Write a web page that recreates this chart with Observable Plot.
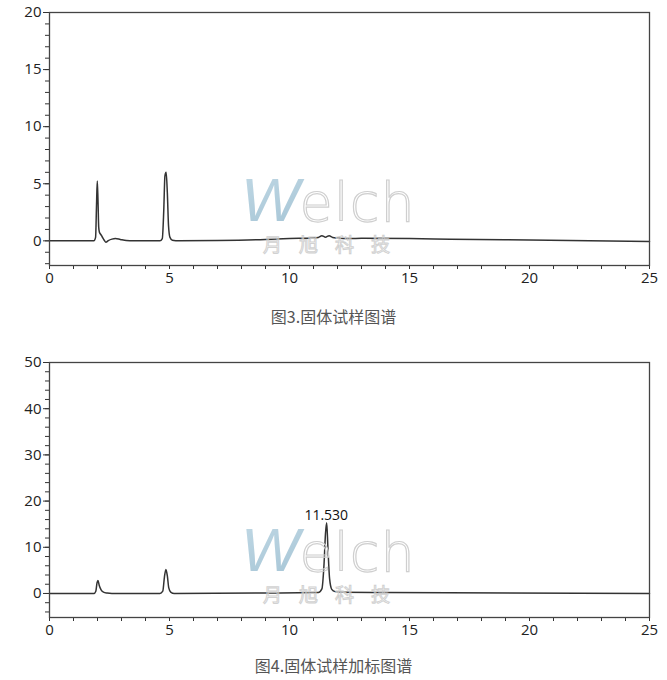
<!DOCTYPE html>
<html><head><meta charset="utf-8">
<script src="https://cdn.jsdelivr.net/npm/d3@7"></script>
<script src="https://cdn.jsdelivr.net/npm/@observablehq/plot@0.6"></script>
<style>
body{margin:0;background:#fff;width:667px;height:680px;position:relative;overflow:hidden}
.panel{position:absolute;left:0}
.cap{position:absolute;left:0;width:667px;text-align:center;font-family:"Noto Sans CJK SC";font-size:16px;color:#555;line-height:20px}
.wm{position:absolute;left:225px;pointer-events:none}
.wm svg{overflow:visible}
</style></head>
<body>
<div id="p1" class="panel" style="top:0"></div>
<div id="c1" class="cap" style="top:306px"></div>
<div id="p2" class="panel" style="top:350px"></div>
<div id="c2" class="cap" style="top:655px"></div>
<script>
// ---- data (retention time in min, signal) ----
const trace1Time   = [0, 1.85, 1.92, 1.96, 1.99, 2.02, 2.05, 2.08, 2.12, 2.17, 2.22, 2.28, 2.35, 2.45, 2.6, 2.75, 2.95, 3.2, 3.5, 4.6, 4.7, 4.76, 4.81, 4.86, 4.91, 4.96, 5.02, 5.12, 5.4, 7, 9, 10, 11, 11.2, 11.35, 11.5, 11.65, 11.8, 12.0, 12.5, 13, 15, 16.7, 20, 25];
const trace1Signal = [0, 0, 0.3, 3.2, 5.25, 3.6, 1.2, 0.75, 0.6, 0.45, 0.25, 0.05, -0.12, 0.02, 0.15, 0.2, 0.12, 0.03, 0, 0, 0.2, 2.6, 5.7, 6.0, 4.2, 1.3, 0.3, 0.05, 0, 0.03, 0.12, 0.2, 0.25, 0.3, 0.45, 0.32, 0.45, 0.3, 0.25, 0.2, 0.22, 0.2, 0.15, 0.07, -0.05];
const trace2Time   = [0, 1.85, 1.93, 1.98, 2.02, 2.07, 2.15, 2.25, 2.4, 2.6, 4.6, 4.72, 4.79, 4.85, 4.91, 4.97, 5.05, 5.2, 9, 11.2, 11.35, 11.44, 11.5, 11.55, 11.6, 11.67, 11.76, 11.9, 12.2, 14, 25];
const trace2Signal = [0, 0, 0.5, 2.3, 2.8, 1.8, 0.8, 0.3, 0.1, 0, 0, 0.5, 3.6, 5.2, 3.8, 1.2, 0.3, 0, 0.1, 0.2, 1.0, 6.5, 13, 15.3, 10, 3.2, 0.9, 0.4, 0.25, 0.2, 0];
const peakLabelTime = [11.53];
const peakLabelSignal = [15.3];
const peakLabelText = ["11.530"];
const xMajor = [0, 5, 10, 15, 20, 25];
const xMinor = d3.range(0, 26, 1);
const y1Major = [0, 5, 10, 15, 20];
const y1Minor = d3.range(-2, 21, 1);
const y2Major = [0, 10, 20, 30, 40, 50];
const y2Minor = d3.range(-4, 51, 2);
const captions = ["图3.固体试样图谱", "图4.固体试样加标图谱"];

document.getElementById("c1").textContent = captions[0];
document.getElementById("c2").textContent = captions[1];

function panel(times, signals, yDomain, yMajor, yMinor, plotH, labels) {
  const data = times.map((t, i) => ({t, s: signals[i]}));
  const marks = [
    Plot.axisX(xMinor, {tickSize: 4, tickFormat: () => "", stroke: "#333", label: null}),
    Plot.axisX(xMajor, {tickSize: 4, tickPadding: 3, stroke: "#333", fill: "#222", label: null}),
    Plot.axisY(yMinor, {tickSize: 4, tickFormat: () => "", stroke: "#333", label: null}),
    Plot.axisY(yMajor, {tickSize: 6, tickPadding: 2, stroke: "#333", fill: "#222", label: null}),
    Plot.line(data, {x: "t", y: "s", stroke: "#333", strokeWidth: 1.5, curve: "monotone-x"}),
    Plot.frame({stroke: "#444", strokeWidth: 1.3})
  ];
  if (labels) {
    const ld = labels.t.map((t, i) => ({t, s: labels.s[i], txt: labels.txt[i]}));
    marks.push(Plot.text(ld, {x: "t", y: "s", text: "txt", dy: -3, fontSize: 14, fill: "#111", lineAnchor: "bottom"}));
  }
  return Plot.plot({
    width: 667, height: 12 + plotH + 25,
    marginLeft: 49, marginRight: 18, marginTop: 12, marginBottom: 25,
    style: {fontSize: "15px", fontFamily: "Open Sans", color: "#222", background: "transparent", overflow: "visible"},
    x: {domain: [0, 25], label: null},
    y: {domain: yDomain, label: null},
    marks
  });
}
document.getElementById("p1").append(panel(trace1Time, trace1Signal, [-2.16, 20], y1Major, y1Minor, 253));
document.getElementById("p2").append(panel(trace2Time, trace2Signal, [-5.2, 50], y2Major, y2Minor, 255,
  {t: peakLabelTime, s: peakLabelSignal, txt: peakLabelText}));

// watermark overlay
function watermark(top) {
  const ns = "http://www.w3.org/2000/svg";
  const div = document.createElement("div");
  div.className = "wm";
  div.style.top = top + "px";
  div.innerHTML = `<svg width="200" height="88" xmlns="${ns}">
    <defs><linearGradient id="g${top}" x1="0" y1="0" x2="1" y2="1">
      <stop offset="0" stop-color="#a9cadb"/><stop offset="1" stop-color="#6a9db9"/></linearGradient></defs>
    <text x="16" y="52" font-family="DejaVu Sans" font-size="54"><tspan font-family="Liberation Sans" font-style="italic" font-size="62" fill="url(#g${top})" opacity="0.7">W</tspan><tspan dx="0" font-weight="200" fill="none" stroke="#cfcfcf" stroke-width="1.2" letter-spacing="1">elch</tspan></text>
    <text x="38" y="83" font-family="Noto Sans CJK SC" font-size="19" fill="none" stroke="#cdcdcd" stroke-width="1" letter-spacing="17" opacity="0.9">月旭科技</text>
  </svg>`;
  document.body.append(div);
}
watermark(169);
watermark(519);
</script>
</body></html>
